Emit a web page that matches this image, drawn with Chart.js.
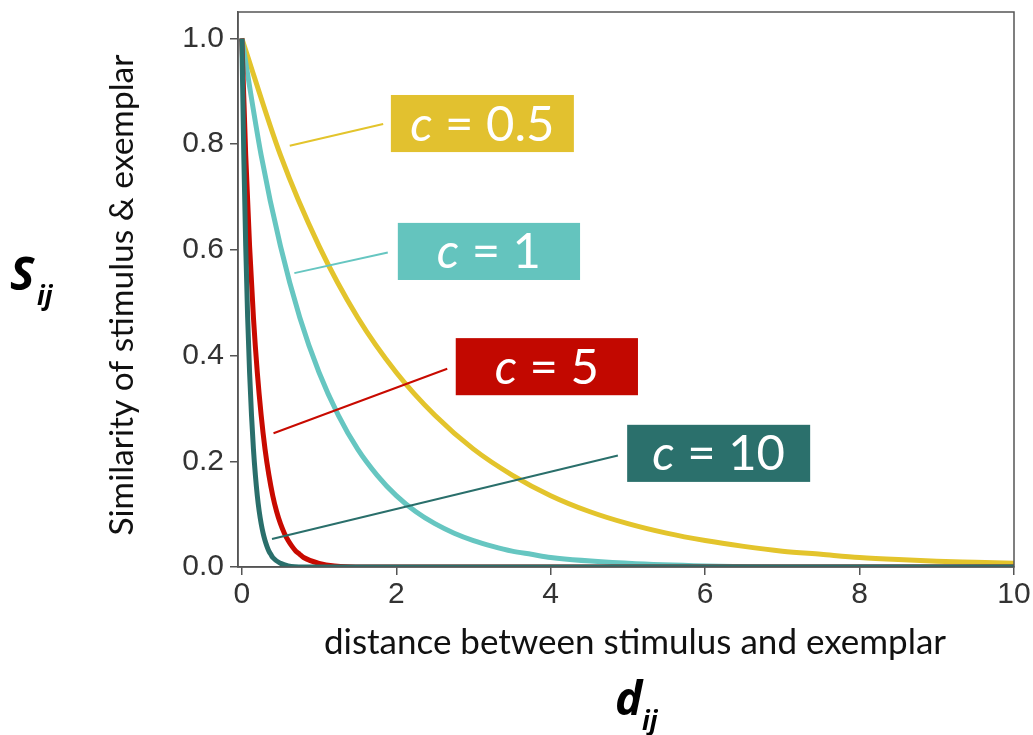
<!DOCTYPE html>
<html>
<head>
<meta charset="utf-8">
<script src="https://cdn.jsdelivr.net/npm/chart.js@4.4.1/dist/chart.umd.min.js"></script>
<style>
  html, body { margin: 0; padding: 0; background: #fff; }
  #wrap { width: 1033px; height: 735px; position: relative; }
</style>
</head>
<body>
<div id="wrap"><canvas id="simChart" width="1033" height="735"></canvas></div>
<script>
// Values (distance d, similarity s)
const dHalf = [0, 0.5, 1, 1.5, 2, 2.5, 3, 3.5, 4, 4.5, 5, 5.5, 6, 6.5, 7, 7.5, 8, 8.5, 9, 9.5, 10];
const sHalf = [1.0, 0.779, 0.607, 0.472, 0.368, 0.287, 0.223, 0.174, 0.135, 0.105, 0.082, 0.064, 0.050, 0.039, 0.030, 0.024, 0.018, 0.014, 0.011, 0.009, 0.007];

const dOne = [0, 0.25, 0.5, 0.75, 1, 1.25, 1.5, 1.75, 2, 2.25, 2.5, 2.75, 3, 3.25, 3.5, 3.75, 4, 5, 6, 8, 10];
const sOne = [1.0, 0.779, 0.607, 0.472, 0.368, 0.287, 0.223, 0.174, 0.135, 0.105, 0.082, 0.064, 0.050, 0.039, 0.030, 0.024, 0.018, 0.007, 0.002, 0.0, 0.0];

const dFive = [0, 0.05, 0.1, 0.15, 0.2, 0.25, 0.3, 0.35, 0.4, 0.45, 0.5, 0.55, 0.6, 0.65, 0.7, 0.75, 0.8, 1.0, 1.2, 1.6, 10];
const sFive = [1.0, 0.779, 0.607, 0.472, 0.368, 0.287, 0.223, 0.174, 0.135, 0.105, 0.082, 0.064, 0.050, 0.039, 0.030, 0.024, 0.018, 0.007, 0.002, 0.0, 0.0];

const dTen = [0, 0.025, 0.05, 0.075, 0.1, 0.125, 0.15, 0.175, 0.2, 0.225, 0.25, 0.275, 0.3, 0.325, 0.35, 0.375, 0.4, 0.5, 0.6, 0.8, 10];
const sTen = [1.0, 0.779, 0.607, 0.472, 0.368, 0.287, 0.223, 0.174, 0.135, 0.105, 0.082, 0.064, 0.050, 0.039, 0.030, 0.024, 0.018, 0.007, 0.002, 0.0, 0.0];

const xTicks = [0, 2, 4, 6, 8, 10];
const yTicks = [0, 0.2, 0.4, 0.6, 0.8, 1.0];

const seriesNames = ['c = 0.5', 'c = 1', 'c = 5', 'c = 10'];
const lineColors = ['#e3c42c', '#66c6c1', '#c80a00', '#2a6f6b'];
const boxColors = ['#e2c12f', '#64c4be', '#c20800', '#2b706c'];

// label boxes and leader lines, in data units
const labelBoxes = [
  { x0: 1.93, x1: 4.30, y0: 0.785, y1: 0.893, from: [0.62, 0.797], to: [1.83, 0.838] },
  { x0: 2.02, x1: 4.38, y0: 0.543, y1: 0.651, from: [0.68, 0.556], to: [1.89, 0.595] },
  { x0: 2.77, x1: 5.13, y0: 0.325, y1: 0.433, from: [0.41, 0.253], to: [2.66, 0.375] },
  { x0: 4.99, x1: 7.36, y0: 0.161, y1: 0.269, from: [0.39, 0.053], to: [4.87, 0.211] }
];

function pts(xs, ys) {
  return xs.map((x, i) => ({ x: x, y: ys[i] }));
}

const extrasPlugin = {
  id: 'extras',
  afterDatasetsDraw(chart) {
    const ctx = chart.ctx;
    const xs = chart.scales.x;
    const ys = chart.scales.y;
    const area = chart.chartArea;

    // frame around the plot
    ctx.save();
    ctx.strokeStyle = '#555';
    ctx.lineWidth = 1.5;
    ctx.strokeRect(area.left, area.top, area.right - area.left, area.bottom - area.top);

    // leader lines and label boxes
    labelBoxes.forEach((b, i) => {
      ctx.strokeStyle = lineColors[i];
      ctx.lineWidth = 2;
      ctx.beginPath();
      ctx.moveTo(xs.getPixelForValue(b.from[0]), ys.getPixelForValue(b.from[1]));
      ctx.lineTo(xs.getPixelForValue(b.to[0]), ys.getPixelForValue(b.to[1]));
      ctx.stroke();

      const left = xs.getPixelForValue(b.x0);
      const right = xs.getPixelForValue(b.x1);
      const top = ys.getPixelForValue(b.y1);
      const bottom = ys.getPixelForValue(b.y0);
      ctx.fillStyle = boxColors[i];
      ctx.fillRect(left, top, right - left, bottom - top);

      // "c" italic, rest upright
      const rest = seriesNames[i].slice(1);
      ctx.fillStyle = '#fff';
      ctx.textBaseline = 'alphabetic';
      ctx.font = 'italic 49px Lato';
      const wc = ctx.measureText('c').width;
      ctx.font = '49px Lato';
      const wr = ctx.measureText(rest).width;
      const startX = (left + right) / 2 - (wc + wr) / 2;
      const baseY = (top + bottom) / 2 + 17;
      ctx.font = 'italic 49px Lato';
      ctx.fillText('c', startX, baseY);
      ctx.font = '49px Lato';
      ctx.fillText(rest, startX + wc, baseY);
    });

    // axis titles
    ctx.fillStyle = '#111';
    ctx.font = '35px Lato';
    ctx.textAlign = 'center';
    ctx.textBaseline = 'middle';
    ctx.fillText('distance between stimulus and exemplar', 635, 643);

    ctx.save();
    ctx.translate(122, 295);
    ctx.rotate(-Math.PI / 2);
    ctx.font = '33.5px Lato';
    ctx.fillText('Similarity of stimulus & exemplar', 0, 0);
    ctx.restore();

    // big symbols
    ctx.textAlign = 'left';
    ctx.textBaseline = 'alphabetic';
    ctx.fillStyle = '#000';
    ctx.font = 'italic bold 46px "Open Sans"';
    ctx.fillText('S', 10, 290);
    ctx.font = 'italic bold 26px "Open Sans"';
    ctx.fillText('ij', 37, 305);

    ctx.font = 'italic bold 46px "Open Sans"';
    ctx.fillText('d', 615, 715);
    ctx.font = 'italic bold 26px "Open Sans"';
    ctx.fillText('ij', 642, 730);
    ctx.restore();
  }
};

const ctx = document.getElementById('simChart').getContext('2d');
const simChart = new Chart(ctx, {
  type: 'line',
  data: {
    // higher order is drawn first, so c = 10 ends up on top
    datasets: [
      { label: seriesNames[0], data: pts(dHalf, sHalf), borderColor: lineColors[0], order: 3 },
      { label: seriesNames[1], data: pts(dOne, sOne), borderColor: lineColors[1], order: 2 },
      { label: seriesNames[2], data: pts(dFive, sFive), borderColor: lineColors[2], order: 1 },
      { label: seriesNames[3], data: pts(dTen, sTen), borderColor: lineColors[3], order: 0 }
    ].map(ds => Object.assign(ds, {
      borderWidth: 5,
      pointRadius: 0,
      fill: false,
      cubicInterpolationMode: 'monotone'
    }))
  },
  options: {
    responsive: false,
    animation: false,
    layout: { padding: { left: 0, right: 19, top: 12, bottom: 0 } },
    plugins: {
      legend: { display: false },
      tooltip: { enabled: false }
    },
    scales: {
      x: {
        type: 'linear',
        min: -0.05,
        max: 10,
        afterBuildTicks: axis => { axis.ticks = xTicks.map(v => ({ value: v })); },
        afterFit: axis => {
          axis.height = 168;
          axis.paddingLeft = 0;
          axis.paddingRight = 0;
        },
        grid: { drawOnChartArea: false, drawTicks: true, tickLength: 8, color: '#555', lineWidth: 1.5 },
        border: { color: '#555', width: 1.5 },
        ticks: {
          color: '#333',
          font: { family: 'Liberation Sans', size: 30 },
          padding: 2,
          maxRotation: 0,
          callback: v => String(v)
        }
      },
      y: {
        type: 'linear',
        min: 0,
        max: 1.05,
        afterBuildTicks: axis => { axis.ticks = yTicks.map(v => ({ value: v })); },
        afterFit: axis => {
          axis.width = 238;
          axis.paddingTop = 0;
          axis.paddingBottom = 0;
        },
        grid: { drawOnChartArea: false, drawTicks: true, tickLength: 8, color: '#555', lineWidth: 1.5 },
        border: { color: '#555', width: 1.5 },
        ticks: {
          color: '#333',
          font: { family: 'Liberation Sans', size: 30 },
          padding: 6,
          callback: v => v.toFixed(1)
        }
      }
    }
  },
  plugins: [extrasPlugin]
});
</script>
</body>
</html>
